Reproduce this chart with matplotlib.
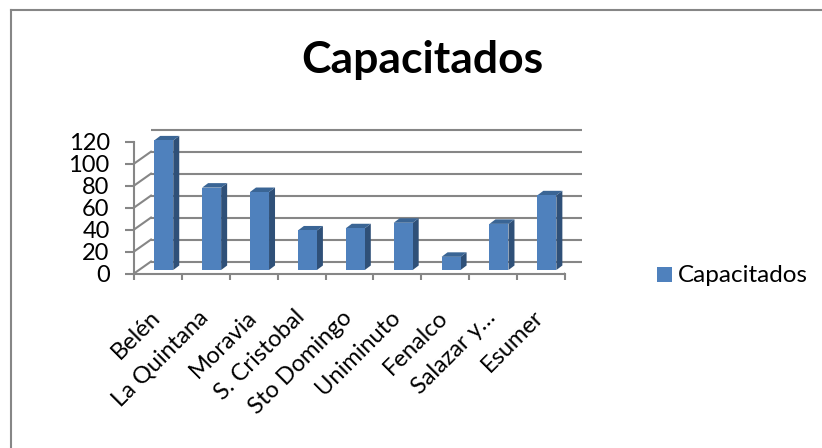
#!/usr/bin/env python3

import matplotlib
matplotlib.use("Agg")
import matplotlib.pyplot as plt
from matplotlib.lines import Line2D
from matplotlib.patches import Polygon, Rectangle
from matplotlib.transforms import Affine2D

categories = ["Belén", "La Quintana", "Moravia", "S. Cristobal", "Sto Domingo",
              "Uniminuto", "Fenalco", "Salazar y…", "Esumer"]
capacitados = [118, 75, 71, 36, 38, 43, 12, 42, 68]
y_ticks = [0, 20, 40, 60, 80, 100, 120]

W, H = 822, 448
BLUE = "#4F81BD"
TOP = "#3A6595"
SIDE = "#2F5078"
GREY = "#868686"

plt.rcParams["font.family"] = ["Lato", "DejaVu Sans"]

fig = plt.figure(figsize=(W / 100, H / 100), dpi=100)
# front plane of the fake 3d box
left, right, top, bottom = 134, 565, 141.7, 273.5
ax = fig.add_axes([left / W, 1 - bottom / H, (right - left) / W, (bottom - top) / H])
ax.set_xlim(0, len(categories))
ax.set_ylim(0, 120)
ax.patch.set_visible(False)
for s in ["top", "right"]:
    ax.spines[s].set_visible(False)
for s in ["left", "bottom"]:
    ax.spines[s].set_color(GREY)
    ax.spines[s].set_linewidth(1.5)

ax.set_yticks(y_ticks)
ax.set_xticks(range(len(categories) + 1))
ax.set_xticklabels([])
ax.tick_params(axis="x", color=GREY, width=1.5, length=4.5)
ax.tick_params(axis="y", color=GREY, width=1.5, length=6.5, labelsize=17, pad=11)

# pixel offsets on top of data coords
def shifted(dx, dy):
    return ax.transData + Affine2D().translate(dx, dy)

back = shifted(17, 12)
for v in y_ticks:
    ax.plot([0, len(categories)], [v, v], transform=back, color=GREY, lw=1.5,
            clip_on=False, zorder=1, solid_capstyle="butt")
    # diagonal on the left wall
    p0 = ax.transData.transform((0, v))
    ax.add_line(Line2D([p0[0], p0[0] + 17], [p0[1], p0[1] + 12], transform=None,
                       color=GREY, lw=1.5, zorder=1))
p0 = ax.transData.transform((len(categories), 0))
ax.add_line(Line2D([p0[0], p0[0] + 17], [p0[1], p0[1] + 12], transform=None,
                   color=GREY, lw=1.5, zorder=1))

bar_w = 0.397
face = shifted(5.8, 3.5)
depth_x = bar_w + 6 / ((right - left) / len(categories))
depth_y = 4.5 / ((bottom - top) / 120)
for i, v in enumerate(capacitados):
    x0 = i + 0.5 - bar_w / 2
    x1 = x0 + bar_w
    ax.add_patch(Polygon([(x1, 0), (x0 + depth_x, depth_y), (x0 + depth_x, v + depth_y), (x1, v)],
                         transform=face, fc=SIDE, ec="none", clip_on=False, zorder=3))
    ax.add_patch(Polygon([(x0, v), (x1, v), (x0 + depth_x, v + depth_y),
                          (x0 + depth_x - bar_w, v + depth_y)],
                         transform=face, fc=TOP, ec="none", clip_on=False, zorder=3))
    ax.add_patch(Rectangle((x0, 0), bar_w, v, transform=face, fc=BLUE, ec="none",
                           clip_on=False, zorder=4))

# category labels, right end of text anchored under each slot
for i, name in enumerate(categories):
    ax.annotate(name, (i + 0.5, 0), xytext=(-8, -33), textcoords="offset pixels",
                rotation=45, rotation_mode="anchor", ha="right", va="top",
                fontsize=17, color="black", annotation_clip=False)

fig.text(422 / W, 1 - 60 / H, "Capacitados", ha="center", va="center",
         fontsize=32, fontweight="bold", color="black")

# legend
fig.patches.append(Rectangle((657 / W, 1 - 282 / H), 15 / W, 15 / H, transform=fig.transFigure,
                             fc=BLUE, ec="none", figure=fig))
fig.text(678 / W, 1 - 275 / H, "Capacitados", ha="left", va="center", fontsize=17.5, color="black")

# chart frame, only top and left are in the crop
fig.add_artist(Line2D([10.5 / W, 10.5 / W], [1 - 10.5 / H, 0], color=GREY, lw=1.5))
fig.add_artist(Line2D([10.5 / W, 1], [1 - 10.5 / H, 1 - 10.5 / H], color=GREY, lw=1.5))

fig.savefig("out.png", dpi=100)
